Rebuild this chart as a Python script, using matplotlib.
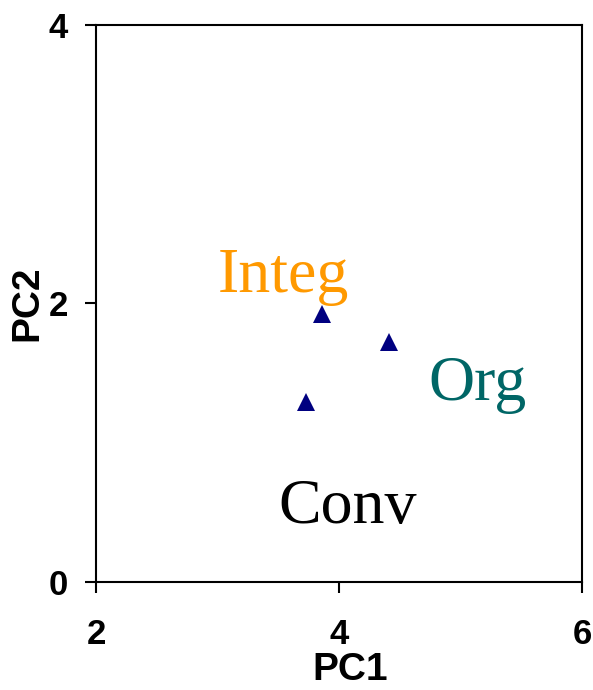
"""PCA score plot: PC1 vs PC2 with farming-system labels."""

import matplotlib
matplotlib.use('Agg')
import matplotlib.pyplot as plt

# scores
pc1 = [3.856, 4.409, 3.728]
pc2 = [1.925, 1.727, 1.296]

# group labels and their anchor positions (data coords, left/baseline)
group_names = ["Integ", "Org", "Conv"]
group_x = [3.004, 4.733, 3.498]
group_y = [2.083, 1.307, 0.424]
group_colors = ["#FF9900", "#006666", "#000000"]

x_ticks = [2, 4, 6]
y_ticks = [0, 2, 4]

fig = plt.figure(figsize=(5.93, 6.9), dpi=100)
ax = fig.add_axes([0.1619, 0.1565, 0.8196, 0.8073])

ax.plot(pc1, pc2, linestyle='none', marker='^', markersize=13,
        color='#000080', markeredgewidth=0)

for name, x, y, c in zip(group_names, group_x, group_y, group_colors):
    ax.text(x, y, name, color=c, fontsize=46, family='Liberation Serif',
            ha='left', va='baseline')

ax.set_xlim(2, 6)
ax.set_ylim(0, 4)
ax.set_xticks(x_ticks)
ax.set_yticks(y_ticks)

for spine in ax.spines.values():
    spine.set_linewidth(1.5)

ax.tick_params(direction='out', length=8, width=1.5)
ax.tick_params(axis='x', pad=18)
ax.tick_params(axis='y', pad=12)
for lbl in ax.get_xticklabels() + ax.get_yticklabels():
    lbl.set_fontsize(25)
    lbl.set_fontweight('bold')
    lbl.set_family('Liberation Sans')

ax.set_xlabel("PC1", fontsize=28, fontweight='bold', family='Liberation Sans')
ax.set_ylabel("PC2", fontsize=28, fontweight='bold', family='Liberation Sans')
ax.xaxis.set_label_coords(0.523, -0.125)
ax.yaxis.set_label_coords(-0.105, 0.501)

fig.savefig("out.png", dpi=100)
